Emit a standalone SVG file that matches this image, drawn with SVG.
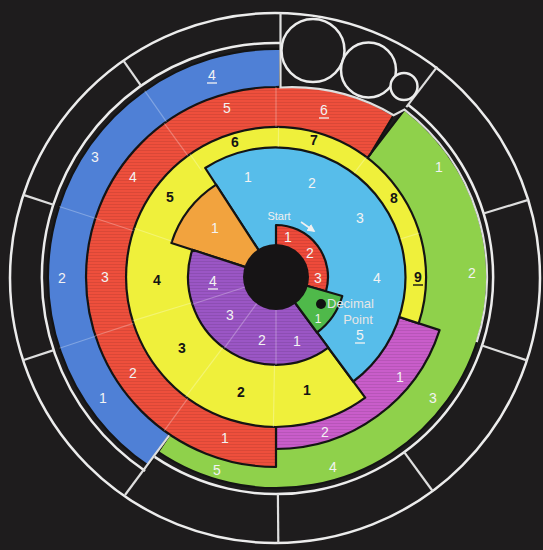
<svg xmlns="http://www.w3.org/2000/svg" width="543" height="550" viewBox="0 0 543 550">
<defs>
<style>
.seg{stroke:#141414;stroke-width:2.2;stroke-linejoin:round}
.st{fill:url(#stripes);stroke:none}
.w{fill:#f3f3f3;font-family:"Liberation Sans",Arial,sans-serif;font-size:14px;text-anchor:middle}
.k{fill:#141414;font-family:"Liberation Sans",Arial,sans-serif;font-size:14px;font-weight:bold;text-anchor:middle}
.ring{fill:none;stroke:#ececec;stroke-width:2.5}
.tick{stroke:#dedede;stroke-width:2.2;fill:none}
.sep{stroke:#ffffff;stroke-opacity:0.28;stroke-width:1.2}
.ul{stroke:#f3f3f3;stroke-width:1.3}
.lbl{fill:#e6e6e6;font-family:"Liberation Sans",Arial,sans-serif;font-size:13px}
</style>
<pattern id="stripes" width="6" height="3" patternUnits="userSpaceOnUse"><rect width="6" height="1" fill="#000" fill-opacity="0.09"/></pattern>
<marker id="ah" viewBox="0 0 10 10" refX="8" refY="5" markerWidth="5" markerHeight="5" orient="auto"><path d="M0,0 L10,5 L0,10 Z" fill="#f0f0f0"/></marker>
</defs>
<rect width="543" height="550" fill="#1e1c1d"/>

<g id="green-outer">
<path class="seg" fill="#8fd14b" d="M276,277 L404.5,109.6 A211,211 0 0 1 158,451.9 Z"/>
<text class="w" x="439" y="172">1</text><text class="w" x="472" y="278">2</text><text class="w" x="433" y="403">3</text><text class="w" x="333" y="472">4</text><text class="w" x="217" y="475">5</text>
</g>
<g id="blue-outer">
<path class="seg" fill="#4f80d6" d="M276,277 L148.5,466 A228,228 0 0 1 280.8,49 Z"/>
<text class="w" x="103" y="403">1</text><text class="w" x="62" y="283">2</text><text class="w" x="95" y="162">3</text><text class="w" x="212" y="80">4</text>
<line class="ul" x1="207" y1="83" x2="217" y2="83"/>
</g>
<g id="magenta">
<path class="seg" fill="#c95dca" d="M276,277 L439.6,330.1 A172,172 0 0 1 276,449 Z"/>
<path class="st" d="M276,277 L439.6,330.1 A172,172 0 0 1 276,449 Z"/>
<text class="w" x="400" y="382">1</text><text class="w" x="325" y="437">2</text>
</g>
<g id="red-band">
<path class="seg" fill="#ee4f3c" d="M276,277 L276,467 A190,190 0 0 1 86,277 A190,190 0 0 1 276,87 A200,200 0 0 1 393.6,115.2 L370.4,154 Z"/>
<path class="st" d="M276,277 L276,467 A190,190 0 0 1 86,277 A190,190 0 0 1 276,87 A200,200 0 0 1 393.6,115.2 L370.4,154 Z"/>
<text class="w" x="225" y="443">1</text><text class="w" x="133" y="378">2</text><text class="w" x="105" y="282">3</text><text class="w" x="133" y="182">4</text><text class="w" x="227" y="113">5</text><text class="w" x="324" y="115">6</text>
<line class="ul" x1="319" y1="118" x2="329" y2="118"/>
</g>
<g id="yellow">
<path class="seg" fill="#eff03b" d="M276,277 L365.2,397.6 A150,150 0 1 1 418.7,323.4 Z"/>
<text class="k" x="307" y="395">1</text><text class="k" x="241" y="397">2</text><text class="k" x="182" y="353">3</text><text class="k" x="157" y="285">4</text><text class="k" x="170" y="202">5</text><text class="k" x="235" y="147">6</text><text class="k" x="314" y="145">7</text><text class="k" x="394" y="203">8</text><text class="k" x="418" y="282">9</text>
<line x1="413" y1="285" x2="423" y2="285" stroke="#141414" stroke-width="1.4"/>
</g>
<g id="cyan">
<path class="seg" fill="#57bdea" d="M276,277 L205.2,168 A130,130 0 0 1 353.3,381.5 Z"/>
<text class="w" x="248" y="182">1</text><text class="w" x="312" y="188">2</text><text class="w" x="360" y="223">3</text><text class="w" x="377" y="283">4</text><text class="w" x="360" y="340">5</text>
<line class="ul" x1="355" y1="343" x2="365" y2="343"/>
</g>
<g id="orange">
<path class="seg" fill="#f2a33e" d="M276,277 L171.4,243 A110,110 0 0 1 216.1,184.7 Z"/>
<text class="w" x="215" y="233">1</text>
</g>
<g id="purple">
<path class="seg" fill="#9b56c5" d="M276,277 L328.3,347.7 A88,88 0 0 1 192.3,249.8 Z"/>
<path class="st" d="M276,277 L328.3,347.7 A88,88 0 0 1 192.3,249.8 Z"/>
<text class="w" x="297" y="346">1</text><text class="w" x="262" y="345">2</text><text class="w" x="230" y="320">3</text><text class="w" x="213" y="286">4</text>
<line class="ul" x1="208" y1="289" x2="218" y2="289"/>
</g>
<g id="start-red">
<path class="seg" fill="#ee4a3a" d="M276,277 L276,225 A52,52 0 0 1 326,291.3 Z"/>
<path class="st" d="M276,277 L276,225 A52,52 0 0 1 326,291.3 Z"/>
<text class="w" x="288" y="242">1</text><text class="w" x="310" y="258">2</text><text class="w" x="318" y="283">3</text>
</g>
<g id="decimal-green">
<path class="seg" fill="#4fb94a" d="M276,277 L342.3,296 A69,69 0 0 1 317,332.5 Z"/>
<text class="w" x="318" y="323" style="font-size:12px">1</text>
</g>
<g id="hub">
<circle cx="276" cy="277" r="33" fill="#161415"/>
</g>

<g id="separators">
<line class="sep" x1="95.5" y1="336.3" x2="59.4" y2="348.2"/>
<line class="sep" x1="95.3" y1="218.3" x2="59.2" y2="206.5"/>
<line class="sep" x1="166.5" y1="121.8" x2="144.6" y2="90.7"/>
<line class="sep" x1="187.8" y1="398.4" x2="164.3" y2="430.7"/>
<line class="sep" x1="133.3" y1="323.4" x2="95.3" y2="335.7"/>
<line class="sep" x1="133.3" y1="230.7" x2="95.3" y2="218.3"/>
<line class="sep" x1="187.8" y1="155.7" x2="164.3" y2="123.3"/>
<line class="sep" x1="276" y1="127" x2="276" y2="87"/>
<line class="sep" x1="274.5" y1="365" x2="273.4" y2="427"/>
<line class="sep" x1="223" y1="347.3" x2="185.7" y2="396.8"/>
<line class="sep" x1="191.8" y1="302.7" x2="132.6" y2="320.9"/>
<line class="sep" x1="172" y1="241.2" x2="134.2" y2="228.2"/>
<line class="sep" x1="201.4" y1="170.5" x2="190" y2="154.1"/>
<line class="sep" x1="278.3" y1="147" x2="278.6" y2="127"/>
<line class="sep" x1="354.2" y1="173.2" x2="366.3" y2="157.2"/>
<line class="sep" x1="400.3" y1="239" x2="419.4" y2="233.1"/>
<line class="sep" x1="276" y1="310" x2="276" y2="365"/>
<line class="sep" x1="256.6" y1="303.7" x2="224.3" y2="348.2"/>
<line class="sep" x1="244.6" y1="287.2" x2="192.3" y2="304.2"/>
</g>

<g id="frame">
<circle class="ring" cx="275" cy="278" r="265"/>
<path class="ring" d="M408.1,104.8 A217,217 0 0 1 154.7,456.9"/>
<path class="ring" d="M145.1,471 A234,234 0 0 1 280.9,43"/>
<path class="tick" d="M280.5,13 L280.5,87.5 A200,200 0 0 1 393.6,115.2 L404.5,109.6 A211,211 0 0 1 476.7,342.2"/>
<line class="tick" x1="406.3" y1="107.2" x2="437.3" y2="66.7"/>
<line class="tick" x1="483.5" y1="213.5" x2="528.3" y2="199.9"/>
<line class="tick" x1="481.9" y1="345.5" x2="526.9" y2="360.4"/>
<line class="tick" x1="404.2" y1="452.1" x2="432.6" y2="491"/>
<line class="tick" x1="277.9" y1="494" x2="278.3" y2="543"/>
<line class="tick" x1="169.2" y1="435.3" x2="125" y2="495"/>
<line class="tick" x1="53.7" y1="350.1" x2="23" y2="360.2"/>
<line class="tick" x1="53.4" y1="204.7" x2="23.4" y2="194.9"/>
<line class="tick" x1="141.1" y1="85.8" x2="123.4" y2="60.6"/>
</g>

<g id="circles">
<circle cx="313" cy="50.5" r="31.5" fill="#1e1c1d" stroke="#ececec" stroke-width="2.5"/>
<circle cx="368.5" cy="70" r="27.5" fill="#1e1c1d" stroke="#ececec" stroke-width="2.5"/>
<circle cx="404" cy="86.5" r="13.5" fill="#1e1c1d" stroke="#ececec" stroke-width="2.5"/>
</g>

<g id="start-label">
<text x="279" y="220" style="fill:#f0f0f0;font-family:'Liberation Sans',Arial,sans-serif;font-size:11px;text-anchor:middle">Start</text>
<line x1="301" y1="222" x2="314" y2="231" stroke="#f0f0f0" stroke-width="1.6" marker-end="url(#ah)"/>
</g>
<g id="decimal-point">
<circle cx="321" cy="304" r="5" fill="#111"/>
<text class="lbl" x="327" y="308">Decimal</text>
<text class="lbl" x="358" y="324" text-anchor="middle">Point</text>
</g>
</svg>
